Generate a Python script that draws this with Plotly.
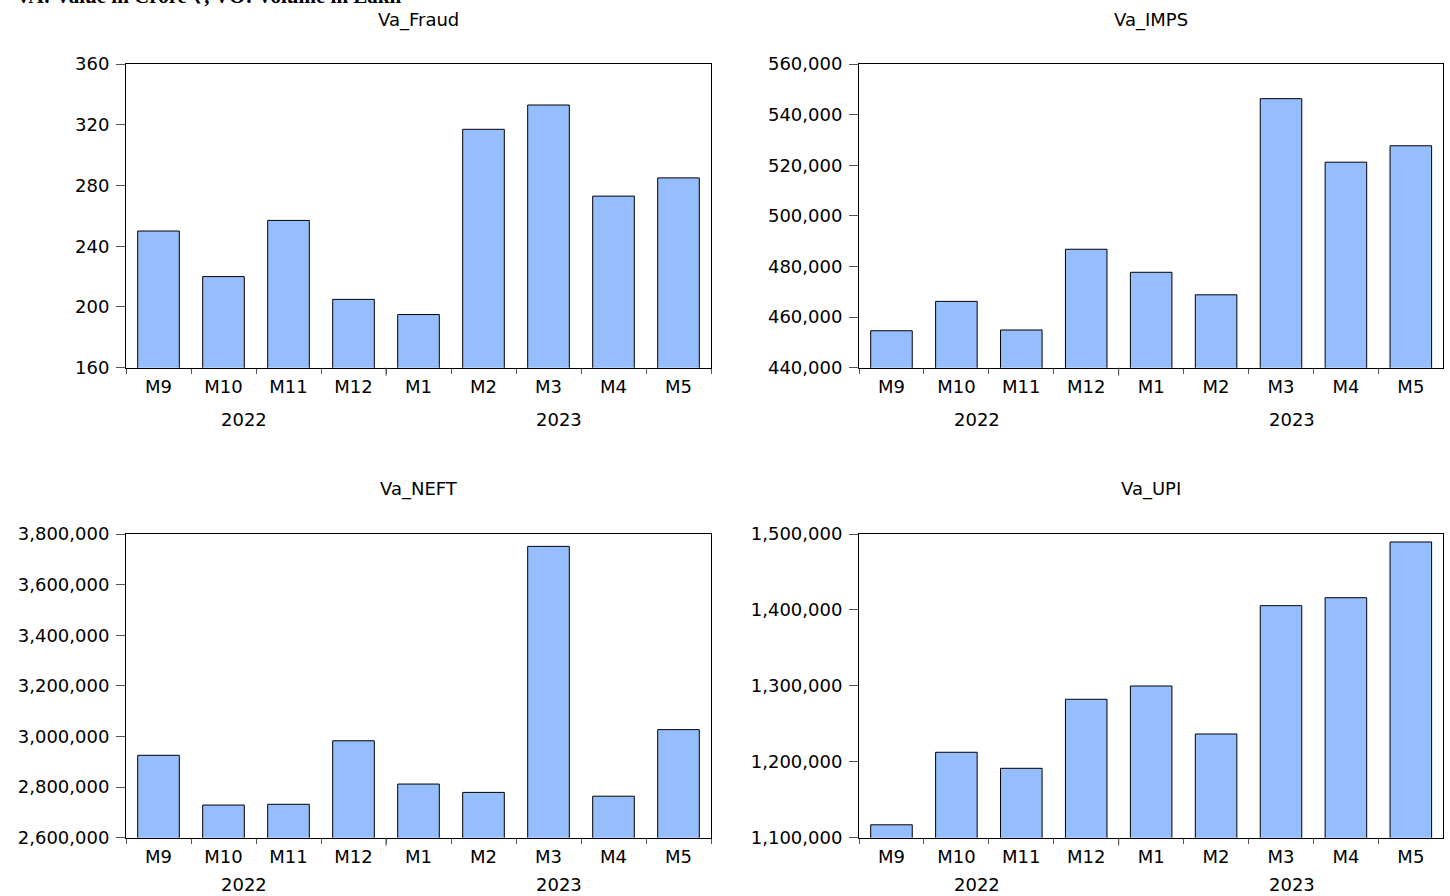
import plotly.graph_objects as go

# ---- data ----
months = ["M9", "M10", "M11", "M12", "M1", "M2", "M3", "M4", "M5"]
years = ["2022", "2023"]
titles = ["Va_Fraud", "Va_IMPS", "Va_NEFT", "Va_UPI"]
va_fraud = [250, 220, 257, 205, 195, 317, 333, 273, 285]
va_imps = [454600, 466200, 454900, 486800, 477700, 468800, 546300, 521200, 527700]
va_neft = [2925600, 2729000, 2732000, 2983000, 2812000, 2779000, 3751000, 2764000, 3027000]
va_upi = [1117000, 1212500, 1191400, 1282300, 1299800, 1236600, 1405600, 1416100, 1489500]
y_ranges = [[160, 360], [440000, 560000], [2600000, 3800000], [1100000, 1500000]]
y_steps = [40, 20000, 200000, 100000]
header = "VA: Value in Crore ₹, VO: Volume in Lakh"

W, H = 1450, 896
FONT = "DejaVu Sans"
BAR_COLOR = "#96BEFF"


def px(x):
    return x / W


def py(y):
    return 1 - y / H


# panel pixel boxes: (left, right, top, bottom)
boxes = [(126, 711, 64, 367.7), (859, 1443.3, 64, 367.7),
         (126, 711, 534, 837.7), (859, 1443.3, 534, 837.7)]
year_x = [(243.5, 558.5), (976.7, 1291.7), (243.5, 558.5), (976.7, 1291.7)]
year_y = [419, 419, 884, 884]

fig = go.Figure()
series = [va_fraud, va_imps, va_neft, va_upi]
annotations = []
shapes = []
for i, (vals, box) in enumerate(zip(series, boxes)):
    n = "" if i == 0 else str(i + 1)
    l, r, t, b = box
    fig.add_trace(go.Bar(
        x=months, y=vals, xaxis="x" + n, yaxis="y" + n,
        marker=dict(color=BAR_COLOR, line=dict(color="black", width=1)),
        showlegend=False, hoverinfo="x+y"))
    common = dict(showline=True, mirror=True, linecolor="black", linewidth=1,
                  showgrid=False, zeroline=False, ticks="outside", tickcolor="#555",
                  automargin=False, ticklabelstandoff=3,
                  tickfont=dict(family=FONT, size=18, color="black"))
    fig.update_layout(**{
        "xaxis" + n: dict(domain=[px(l), px(r)], anchor="y" + n, type="category",
                          tickson="boundaries", ticklen=5, **common),
        "yaxis" + n: dict(domain=[py(b), py(t)], anchor="x" + n,
                          range=y_ranges[i], dtick=y_steps[i], tick0=y_ranges[i][0],
                          tickformat=",d", ticklen=9, **common),
    })
    # panel title
    annotations.append(dict(text=titles[i], x=px((l + r) / 2), y=py(20 if i < 2 else 489),
                            xref="paper", yref="paper", showarrow=False,
                            xanchor="center", yanchor="middle",
                            font=dict(family=FONT, size=18, color="black")))
    # year labels
    for yr, xp in zip(years, year_x[i]):
        annotations.append(dict(text=yr, x=px(xp), y=py(year_y[i]),
                                xref="paper", yref="paper", showarrow=False,
                                xanchor="center", yanchor="middle",
                                font=dict(family=FONT, size=18, color="black")))
    # longer tick at year boundary
    shapes.append(dict(type="line", xref="x" + n, yref="y" + n + " domain",
                       x0=3.5, x1=3.5, y0=0, y1=-8 / (b - t),
                       line=dict(color="#555", width=1)))

# header line, partly above the top edge as in the reference
annotations.append(dict(text="<b>" + header + "</b>", x=px(14), y=py(-4),
                        xref="paper", yref="paper", showarrow=False,
                        xanchor="left", yanchor="middle",
                        font=dict(family="Liberation Serif", size=21, color="black")))

fig.update_layout(width=W, height=H, margin=dict(l=0, r=0, t=0, b=0, autoexpand=False),
                  paper_bgcolor="white", plot_bgcolor="white",
                  bargap=0.36, annotations=annotations, shapes=shapes)

fig.write_html("out.html", config={"displayModeBar": False},
               post_script="document.body.style.margin='0px';")
